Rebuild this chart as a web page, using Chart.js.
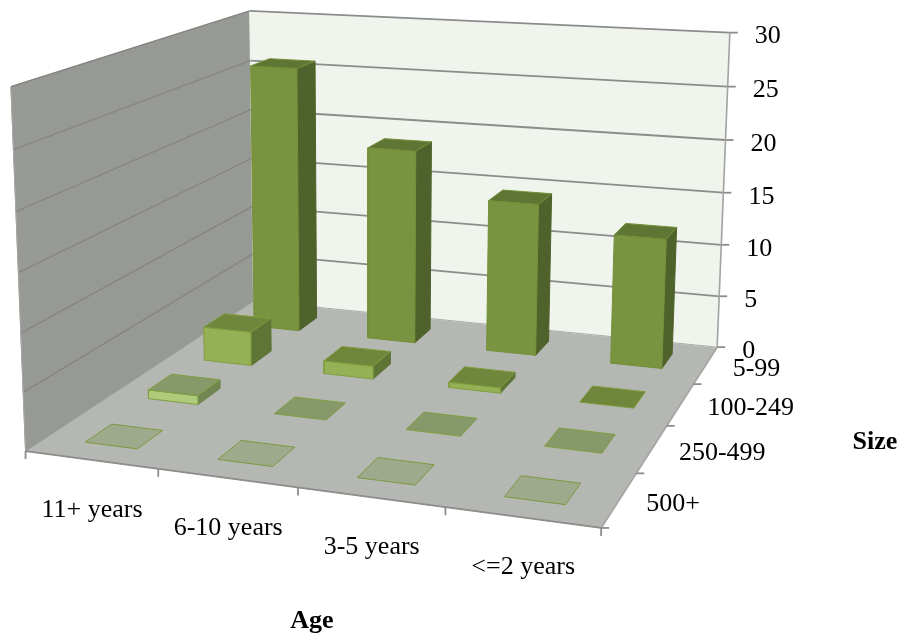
<!DOCTYPE html>
<html>
<head>
<meta charset="utf-8">
<title>Age and size</title>
<script src="https://cdn.jsdelivr.net/npm/chart.js@4/dist/chart.umd.js"></script>
<style>
  html, body { margin: 0; padding: 0; background: #fff; }
  canvas { display: block; }
</style>
</head>
<body>
<canvas id="myChart" width="902" height="636"></canvas>
<script>
const ages = ['11+ years', '6-10 years', '3-5 years', '<=2 years'];
const sizes = ['5-99', '100-249', '250-499', '500+'];
const valueTicks = [0, 5, 10, 15, 20, 25, 30];

const size5to99 = [25.9, 18.7, 14.5, 12.2];
const size100to249 = [3.2, 1.2, 0.5, 0];
const size250to499 = [0.8, 0, 0, 0];
const size500plus = [0, 0, 0, 0];

// colours per size row: front, top, side, outline
const rowColors = [
    ['#799440', '#5f7533', '#4f622b', '#749038'],
    ['#95b155', '#6f863c', '#5f7535', '#7f9f3f'],
    ['#aecb7c', '#87996a', '#708552', '#7f9f3f'],
    ['#b5c8a0', '#9faa8d', '#8a9a76', '#7b9a3e']
];

// pixels the 3d box was seen at in the picture: [age, size depth, value, x, y]
const cameraAnchors = [
    [0, 0, 0, 27, 451], [1, 0, 0, 159, 470], [2, 0, 0, 298, 489], [3, 0, 0, 443, 508], [4, 0, 0, 597, 527],
    [4, 1, 0, 638, 473], [4, 2, 0, 670, 425], [4, 3, 0, 697, 383], [4, 4, 0, 715, 347],
    [0, 4, 0, 252, 300], [0, 4, 30, 251, 10], [4, 4, 30, 730, 33], [0, 0, 30, 10, 86],
    [4, 4, 15, 722, 194], [0, 4, 15, 251, 160], [0, 0, 15, 19, 272]
];

function solve(A, b) {
    const n = b.length;
    for (let i = 0; i < n; i++) {
        let p = i;
        for (let r = i + 1; r < n; r++) if (Math.abs(A[r][i]) > Math.abs(A[p][i])) p = r;
        [A[i], A[p]] = [A[p], A[i]];
        [b[i], b[p]] = [b[p], b[i]];
        for (let r = i + 1; r < n; r++) {
            const f = A[r][i] / A[i][i];
            for (let c = i; c < n; c++) A[r][c] -= f * A[i][c];
            b[r] -= f * b[i];
        }
    }
    const out = new Array(n).fill(0);
    for (let i = n - 1; i >= 0; i--) {
        let s = b[i];
        for (let c = i + 1; c < n; c++) s -= A[i][c] * out[c];
        out[i] = s / A[i][i];
    }
    return out;
}

// least squares fit of the perspective camera
function fitCamera() {
    const A = [], b = [];
    for (let i = 0; i < 11; i++) { A.push(new Array(11).fill(0)); b.push(0); }
    const addRow = (row, rhs) => {
        for (let i = 0; i < 11; i++) {
            for (let j = 0; j < 11; j++) A[i][j] += row[i] * row[j];
            b[i] += row[i] * rhs;
        }
    };
    cameraAnchors.forEach(([u, v, h, x, y]) => {
        const w = h / 7.5;
        addRow([u, v, w, 1, 0, 0, 0, 0, -x * u, -x * v, -x * w], x);
        addRow([0, 0, 0, 0, u, v, w, 1, -y * u, -y * v, -y * w], y);
    });
    return solve(A, b);
}
const cam = fitCamera();

function project(u, v, h, dx = 0, dy = 0) {
    const w = h / 7.5;
    const d = cam[8] * u + cam[9] * v + cam[10] * w + 1;
    return {
        x: (cam[0] * u + cam[1] * v + cam[2] * w + cam[3]) / d + dx,
        y: (cam[4] * u + cam[5] * v + cam[6] * w + cam[7]) / d + dy
    };
}

const layers = [];

function polygon(points, fillColor, lineColor, lineWidth = 1) {
    layers.push({
        data: points.concat([points[0]]),
        showLine: true,
        fill: 'shape',
        backgroundColor: fillColor,
        borderColor: lineColor,
        borderWidth: lineWidth,
        borderJoinStyle: 'round',
        pointRadius: 0,
        tension: 0
    });
}

function line(a, b, color = '#8c8c8c', width = 1.8) {
    layers.push({
        data: [a, b],
        showLine: true,
        fill: false,
        borderColor: color,
        borderWidth: width,
        pointRadius: 0,
        tension: 0
    });
}

const top30 = valueTicks[valueTicks.length - 1];

// walls and floor
polygon([project(0, 4, 0), project(4, 4, 0), project(4, 0, 0), project(0, 0, 0)], '#b5b7b3', '#b5b7b3');
polygon([project(0, 0, 0), project(0, 4, 0), project(0, 4, top30), project(0, 0, top30)], '#979995', '#979995');
polygon([project(0, 4, 0), project(4, 4, 0), project(4, 4, top30), project(0, 4, top30)], '#eff4ec', '#eff4ec');

valueTicks.forEach((t) => {
    if (t > 0) {
        line(project(0, 0, t), project(0, 4, t), '#858683', 1.4);
        line(project(0, 4, t), project(4, 4, t));
    }
    line(project(4, 4, t), project(4, 4, t, 8, 0));
});
line(project(4, 4, 0), project(0, 4, 0), '#a9aba8', 1);
line(project(4, 4, 0), project(4, 4, top30), '#a3a3a3', 1.6);
line(project(0, 0, 0), project(0, 0, top30), '#a6a7a5', 1);

// floor edges with their tick marks
line(project(0, 0, 0), project(4, 0, 0));
line(project(4, 0, 0), project(4, 4, 0), '#a6a6a6', 1.8);
ages.forEach((a, i) => line(project(i, 0, 0), project(i, 0, 0, 0, 8)));
line(project(4, 0, 0), project(4, 0, 0, 0, 8));
sizes.forEach((s, i) => line(project(4, i, 0), project(4, i, 0, 8, 0)));

// bars, back row first
function bar(cellU, cellV, value, colors) {
    const [front, topFace, side, outline] = colors;
    const u0 = cellU + 0.3, u1 = cellU + 0.7, v0 = cellV + 0.3, v1 = cellV + 0.7;
    if (value > 0) {
        polygon([project(u1, v0, 0), project(u1, v1, 0), project(u1, v1, value), project(u1, v0, value)], side, side);
        polygon([project(u0, v0, 0), project(u1, v0, 0), project(u1, v0, value), project(u0, v0, value)], front, outline);
    }
    polygon([project(u0, v0, value), project(u1, v0, value), project(u1, v1, value), project(u0, v1, value)], topFace, outline);
}

[size5to99, size100to249, size250to499, size500plus].forEach((row, r) => {
    row.forEach((value, c) => bar(c, 3 - r, value, rowColors[r]));
});

const labelFont = '26px "Liberation Serif"';
const titleFont = 'bold 26px "Liberation Serif"';

const labelsPlugin = {
    id: 'labels3d',
    afterDraw(chart) {
        const ctx = chart.ctx;
        ctx.save();
        ctx.fillStyle = '#000';
        ctx.textBaseline = 'middle';
        ctx.font = labelFont;
        ctx.textAlign = 'left';
        valueTicks.forEach((t) => {
            const p = project(4, 4, t, 25, 4);
            ctx.fillText(String(t), p.x, p.y);
        });
        sizes.forEach((s, i) => {
            const p = project(4, 3.5 - i, 0, 27, 4);
            ctx.fillText(s, p.x, p.y);
        });
        ctx.textAlign = 'center';
        ages.forEach((a, i) => {
            const p = project(i + 0.5, 0, 0, 1, 50);
            ctx.fillText(a, p.x, p.y);
        });
        ctx.font = titleFont;
        ctx.fillText('Size', 875, 442);
        ctx.fillText('Age', 312, 621);
        ctx.restore();
    }
};

// chart.js paints the first dataset on top, so the list goes in reversed
new Chart(document.getElementById('myChart'), {
    type: 'scatter',
    data: { datasets: layers.slice().reverse() },
    options: {
        responsive: false,
        animation: false,
        layout: { padding: 0 },
        plugins: { legend: { display: false }, tooltip: { enabled: false } },
        scales: {
            x: { display: false, min: 0, max: 902 },
            y: { display: false, min: 0, max: 636, reverse: true }
        }
    },
    plugins: [labelsPlugin]
});
</script>
</body>
</html>
